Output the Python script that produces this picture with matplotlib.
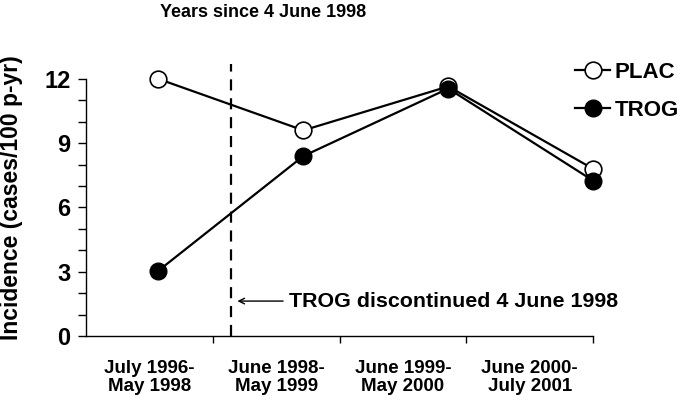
import matplotlib
matplotlib.use("Agg")
import matplotlib.pyplot as plt
from matplotlib.lines import Line2D

plt.rcParams['font.family'] = ['Liberation Sans', 'DejaVu Sans']
plt.rcParams['font.weight'] = 'bold'

# data: x = years since 4 June 1998 (interval midpoints)
years = [-0.5, 0.5, 1.5, 2.5]
plac = [12.0, 9.6, 11.65, 7.8]
trog = [3.05, 8.4, 11.55, 7.25]
periods = ['July 1996-\nMay 1998', 'June 1998-\nMay 1999',
           'June 1999-\nMay 2000', 'June 2000-\nJuly 2001']
yticks = [0, 3, 6, 9, 12]

fig = plt.figure(figsize=(6.85, 4.09), dpi=100)
ax = fig.add_axes([0.1255, 0.1785, 0.7405, 0.6285])

x0, x1 = -1.0, 2.5
w = (x1 - x0) / len(periods)
ax.set_xlim(x0, x1)
ax.set_ylim(0, 12)

ax.plot(years, plac, color='black', lw=1.6, marker='o', ms=12,
        mfc='white', mec='black', mew=1.2, clip_on=False, zorder=3)
ax.plot(years, trog, color='black', lw=1.6, marker='o', ms=12,
        mfc='black', mec='black', clip_on=False, zorder=4)

# discontinuation line
ax.plot([0, 0], [0, 12.7], color='black', lw=1.6, ls=(0, (5, 3.5)),
        clip_on=False, zorder=2)
ax.annotate('', xy=(0.045, 1.63), xytext=(0.36, 1.63),
            arrowprops=dict(arrowstyle='->', color='black', lw=1,
                            shrinkA=0, shrinkB=0))
ax.text(0.40, 1.63, 'TROG discontinued 4 June 1998', fontsize=15.4,
        fontweight='bold', va='center', ha='left')

# axes styling
for s in ['top', 'right']:
    ax.spines[s].set_visible(False)
for s in ['left', 'bottom']:
    ax.spines[s].set_linewidth(1.0)

ax.set_yticks(yticks)
ax.set_yticks(range(0, 13), minor=True)
ax.tick_params(axis='y', which='both', direction='out', length=6, width=1,
               labelsize=17, pad=5)

bounds = [x0 + w * (k + 1) for k in range(len(periods))]
centers = [x0 + w * (k + 0.5) for k in range(len(periods))]
ax.set_xticks(bounds)
ax.set_xticklabels([])
ax.tick_params(axis='x', which='major', direction='out', length=5, width=1)
ax.set_xticks(centers, minor=True)
ax.set_xticklabels(periods, minor=True, fontsize=13.5, fontweight='bold',
                   linespacing=1.1)
ax.tick_params(axis='x', which='minor', length=0, pad=17)

ax.set_ylabel('Incidence (cases/100 p-yr)', fontsize=16.5, fontweight='bold')
ax.yaxis.set_label_coords(-0.125, 0.54)

fig.text(0.384, 0.97, 'Years since 4 June 1998', fontsize=13,
         fontweight='bold', ha='center', va='center')

handles = [
    Line2D([], [], color='black', lw=1.6, marker='o', ms=12, mfc='white',
           mec='black', mew=1.2),
    Line2D([], [], color='black', lw=1.6, marker='o', ms=12, mfc='black',
           mec='black'),
]
fig.legend(handles, ['PLAC', 'TROG'], loc='upper left',
           bbox_to_anchor=(0.823, 0.875), frameon=False,
           prop={'weight': 'bold', 'size': 16}, handlelength=1.6,
           handletextpad=0.2, labelspacing=0.75, borderpad=0)

fig.savefig('out.png', dpi=100)
